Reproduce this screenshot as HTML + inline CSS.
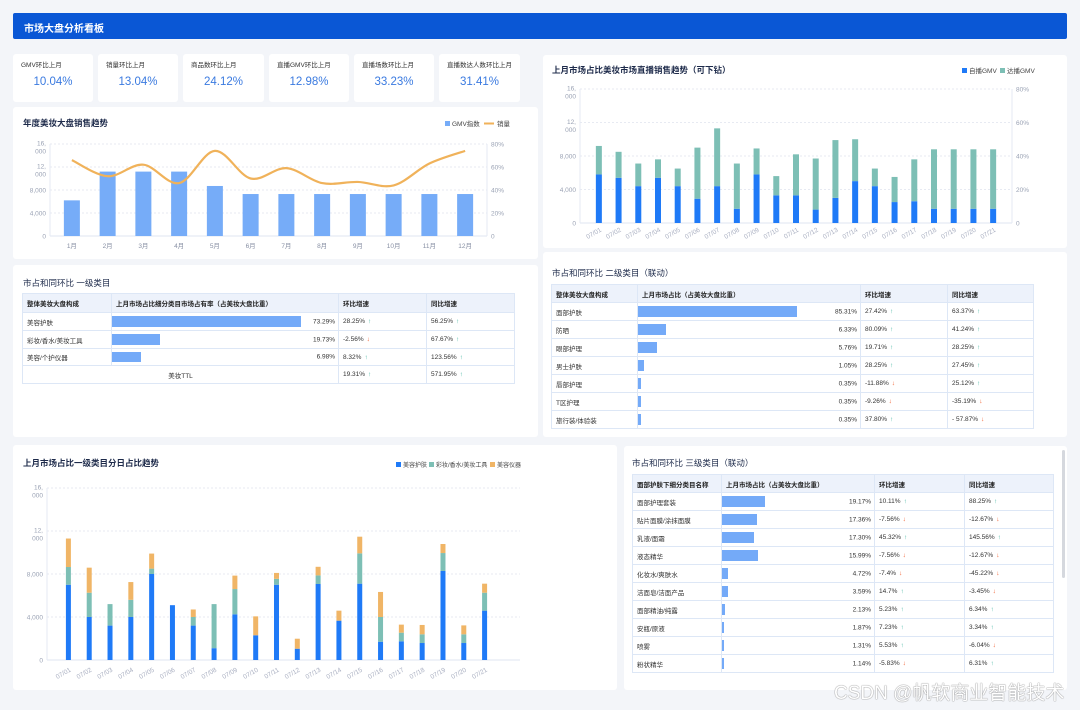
<!DOCTYPE html>
<html><head><meta charset="utf-8">
<style>
*{box-sizing:border-box;margin:0;padding:0}
body{width:1080px;height:710px;background:#f3f5f9;font-family:"Liberation Sans","Noto Sans CJK SC",sans-serif;position:relative;overflow:hidden;color:#333}
.abs{position:absolute}
.panel{position:absolute;background:#fff;border-radius:3px}
.ttl{position:absolute;font-size:8.5px;font-weight:bold;color:#1d2a4a}
.kpi .lb{position:absolute;left:8px;top:5px;font-size:6.5px;color:#333}
.kpi .vl{position:absolute;left:0;right:0;top:22px;text-align:center;font-size:11.5px;color:#3a7ae0}
table{position:absolute;border-collapse:collapse;table-layout:fixed;font-size:6.5px;color:#333}
td,th{border:1px solid #dde7f6;padding:0 4px;white-space:nowrap;overflow:hidden}
th{background:#edf2fb;text-align:left;font-weight:bold;color:#222}
.bc{position:relative;padding:0}
.bar{position:absolute;left:0;top:3px;bottom:3px;background:#74aaf8}
.pv{position:absolute;right:3px;top:50%;transform:translateY(-50%)}
.up{color:#3fb29e;margin-left:3px;font-weight:bold}
.dn{color:#f05a28;margin-left:3px;font-weight:bold}
svg{position:absolute;left:0;top:0}
svg text{font-family:"Liberation Sans","Noto Sans CJK SC",sans-serif}
</style></head><body>
<div class="abs" style="left:13px;top:13px;width:1054px;height:26px;background:#0a57d5;border-radius:2px">
<div style="position:absolute;left:11px;top:7px;color:#fff;font-size:10px;font-weight:bold">市场大盘分析看板</div></div>

<div class="panel kpi" style="left:13px;top:54px;width:80px;height:48px"><div class="lb">GMV环比上月</div><div class="vl">10.04%</div></div>
<div class="panel kpi" style="left:98px;top:54px;width:80px;height:48px"><div class="lb">销量环比上月</div><div class="vl">13.04%</div></div>
<div class="panel kpi" style="left:183px;top:54px;width:81px;height:48px"><div class="lb">商品数环比上月</div><div class="vl">24.12%</div></div>
<div class="panel kpi" style="left:269px;top:54px;width:80px;height:48px"><div class="lb">直播GMV环比上月</div><div class="vl">12.98%</div></div>
<div class="panel kpi" style="left:354px;top:54px;width:80px;height:48px"><div class="lb">直播场数环比上月</div><div class="vl">33.23%</div></div>
<div class="panel kpi" style="left:439px;top:54px;width:81px;height:48px"><div class="lb">直播数达人数环比上月</div><div class="vl">31.41%</div></div>

<div class="panel" style="left:13px;top:107px;width:525px;height:152px"></div>
<div class="ttl" style="left:23px;top:117px">年度美妆大盘销售趋势</div>

<div class="panel" style="left:543px;top:55px;width:524px;height:193px"></div>
<div class="ttl" style="left:552px;top:64px">上月市场占比美妆市场直播销售趋势（可下钻）</div>

<div class="panel" style="left:13px;top:265px;width:525px;height:172px"></div>
<div class="ttl" style="left:23px;top:277px;font-weight:normal">市占和同环比  一级类目</div>
<table style="left:22px;top:293px;width:492px">
<colgroup><col style="width:89px"><col style="width:227px"><col style="width:88px"><col style="width:88px"></colgroup>
<tr style="height:19px"><th>整体美妆大盘构成</th><th>上月市场占比细分类目市场占有率（占美妆大盘比重）</th><th>环比增速</th><th>同比增速</th></tr>
<tr style="height:18px"><td>美容护肤</td><td class="bc"><div class="bar" style="width:189px"></div><span class="pv">73.29%</span></td><td>28.25%<span class="up">↑</span></td><td>56.25%<span class="up">↑</span></td></tr>
<tr style="height:18px"><td>彩妆/香水/美妆工具</td><td class="bc"><div class="bar" style="width:48px"></div><span class="pv">19.73%</span></td><td>-2.56%<span class="dn">↓</span></td><td>67.67%<span class="up">↑</span></td></tr>
<tr style="height:17px"><td>美容/个护仪器</td><td class="bc"><div class="bar" style="width:29px"></div><span class="pv">6.98%</span></td><td>8.32%<span class="up">↑</span></td><td>123.56%<span class="up">↑</span></td></tr>
<tr style="height:18px"><td colspan="2" style="text-align:center">美妆TTL</td><td>19.31%<span class="up">↑</span></td><td>571.95%<span class="up">↑</span></td></tr>
</table>

<div class="panel" style="left:543px;top:252px;width:524px;height:185px"></div>
<div class="ttl" style="left:552px;top:267px;font-weight:normal">市占和同环比  二级类目（联动）</div>
<table style="left:551px;top:284px;width:482px">
<colgroup><col style="width:86px"><col style="width:223px"><col style="width:87px"><col style="width:86px"></colgroup>
<tr style="height:18px"><th>整体美妆大盘构成</th><th>上月市场占比（占美妆大盘比重）</th><th>环比增速</th><th>同比增速</th></tr>
<tr style="height:18px"><td>面部护肤</td><td class="bc"><div class="bar" style="width:159px"></div><span class="pv">85.31%</span></td><td>27.42%<span class="up">↑</span></td><td>63.37%<span class="up">↑</span></td></tr>
<tr style="height:18px"><td>防晒</td><td class="bc"><div class="bar" style="width:28px"></div><span class="pv">6.33%</span></td><td>80.09%<span class="up">↑</span></td><td>41.24%<span class="up">↑</span></td></tr>
<tr style="height:18px"><td>眼部护理</td><td class="bc"><div class="bar" style="width:19px"></div><span class="pv">5.76%</span></td><td>19.71%<span class="up">↑</span></td><td>28.25%<span class="up">↑</span></td></tr>
<tr style="height:18px"><td>男士护肤</td><td class="bc"><div class="bar" style="width:6px"></div><span class="pv">1.05%</span></td><td>28.25%<span class="up">↑</span></td><td>27.45%<span class="up">↑</span></td></tr>
<tr style="height:18px"><td>唇部护理</td><td class="bc"><div class="bar" style="width:3px"></div><span class="pv">0.35%</span></td><td>-11.88%<span class="dn">↓</span></td><td>25.12%<span class="up">↑</span></td></tr>
<tr style="height:18px"><td>T区护理</td><td class="bc"><div class="bar" style="width:3px"></div><span class="pv">0.35%</span></td><td>-9.26%<span class="dn">↓</span></td><td>-35.19%<span class="dn">↓</span></td></tr>
<tr style="height:18px"><td>旅行装/体验装</td><td class="bc"><div class="bar" style="width:3px"></div><span class="pv">0.35%</span></td><td>37.80%<span class="up">↑</span></td><td>- 57.87%<span class="dn">↓</span></td></tr>
</table>

<div class="panel" style="left:13px;top:445px;width:604px;height:245px"></div>
<div class="ttl" style="left:23px;top:457px">上月市场占比一级类目分日占比趋势</div>

<div class="panel" style="left:624px;top:446px;width:443px;height:244px"></div>
<div class="ttl" style="left:632px;top:457px;font-weight:normal">市占和同环比  三级类目（联动）</div>
<div class="abs" style="left:1062px;top:450px;width:3px;height:128px;background:#d5d8de;border-radius:2px"></div>
<table style="left:632px;top:474px;width:421px">
<colgroup><col style="width:89px"><col style="width:153px"><col style="width:90px"><col style="width:89px"></colgroup>
<tr style="height:18px"><th>面部护肤下细分类目名称</th><th>上月市场占比（占美妆大盘比重）</th><th>环比增速</th><th>同比增速</th></tr>
<tr style="height:18px"><td>面部护理套装</td><td class="bc"><div class="bar" style="width:43px"></div><span class="pv">19.17%</span></td><td>10.11%<span class="up">↑</span></td><td>88.25%<span class="up">↑</span></td></tr>
<tr style="height:18px"><td>贴片面膜/涂抹面膜</td><td class="bc"><div class="bar" style="width:35px"></div><span class="pv">17.36%</span></td><td>-7.56%<span class="dn">↓</span></td><td>-12.67%<span class="dn">↓</span></td></tr>
<tr style="height:18px"><td>乳液/面霜</td><td class="bc"><div class="bar" style="width:32px"></div><span class="pv">17.30%</span></td><td>45.32%<span class="up">↑</span></td><td>145.56%<span class="up">↑</span></td></tr>
<tr style="height:18px"><td>液态精华</td><td class="bc"><div class="bar" style="width:36px"></div><span class="pv">15.99%</span></td><td>-7.56%<span class="dn">↓</span></td><td>-12.67%<span class="dn">↓</span></td></tr>
<tr style="height:18px"><td>化妆水/爽肤水</td><td class="bc"><div class="bar" style="width:6px"></div><span class="pv">4.72%</span></td><td>-7.4%<span class="dn">↓</span></td><td>-45.22%<span class="dn">↓</span></td></tr>
<tr style="height:18px"><td>洁面皂/洁面产品</td><td class="bc"><div class="bar" style="width:6px"></div><span class="pv">3.59%</span></td><td>14.7%<span class="up">↑</span></td><td>-3.45%<span class="dn">↓</span></td></tr>
<tr style="height:18px"><td>面部精油/纯露</td><td class="bc"><div class="bar" style="width:3px"></div><span class="pv">2.13%</span></td><td>5.23%<span class="up">↑</span></td><td>6.34%<span class="up">↑</span></td></tr>
<tr style="height:18px"><td>安瓶/原液</td><td class="bc"><div class="bar" style="width:2px"></div><span class="pv">1.87%</span></td><td>7.23%<span class="up">↑</span></td><td>3.34%<span class="up">↑</span></td></tr>
<tr style="height:18px"><td>喷雾</td><td class="bc"><div class="bar" style="width:2px"></div><span class="pv">1.31%</span></td><td>5.53%<span class="up">↑</span></td><td>-6.04%<span class="dn">↓</span></td></tr>
<tr style="height:18px"><td>粉状精华</td><td class="bc"><div class="bar" style="width:2px"></div><span class="pv">1.14%</span></td><td>-5.83%<span class="dn">↓</span></td><td>6.31%<span class="up">↑</span></td></tr>
</table>

<svg id="c1" width="1080" height="710"></svg>
<svg id="c2" width="1080" height="710"></svg>
<svg id="c3" width="1080" height="710"></svg>

<div class="abs" style="left:834px;top:678px;font-size:19px;color:#fff;text-shadow:0 0 1px #888,0 0 1px #888">CSDN @帆软商业智能技术</div>

<script>
const months=["1月","2月","3月","4月","5月","6月","7月","8月","9月","10月","11月","12月"];
const gmvIndex=[6200,11200,11200,11200,8700,7300,7300,7300,7300,7300,7300,7300];
const salesPct=[66,52,62,46,74,50,59,46,47,44,63,74];
const leftTicks=[0,4000,8000,12000,16000];
const leftTickLabels=["0","4,000","8,000","12,|000","16,|000"];
const rightTickLabels=["0","20%","40%","60%","80%"];
const days=["07/01","07/02","07/03","07/04","07/05","07/06","07/07","07/08","07/09","07/10","07/11","07/12","07/13","07/14","07/15","07/16","07/17","07/18","07/19","07/20","07/21"];
const selfGmv=[5800,5400,4400,5400,4400,2900,4400,1700,5800,3300,3300,1600,3000,5000,4400,2500,2600,1700,1700,1700,1700];
const totalGmv=[9200,8500,7100,7600,6500,9000,11300,7100,8900,5600,8200,7700,9900,10000,6500,5500,7600,8800,8800,8800,8800];
const skincare=[7000,4000,3200,4000,8000,5100,3200,1100,4250,2300,7000,1050,7070,3660,7100,1700,1740,1580,8280,1580,4590];
const makeup=[1650,2260,2000,1600,500,0,800,4100,2350,0,550,0,800,0,2820,2300,800,810,1670,810,1670];
const devices=[2650,2330,0,1650,1400,0,700,0,1250,1760,550,930,800,930,1550,2330,750,870,840,830,840];

const NS="http://www.w3.org/2000/svg";
function mk(svg,tag,attrs){const e=document.createElementNS(NS,tag);for(const k in attrs)e.setAttribute(k,attrs[k]);svg.appendChild(e);return e;}
function lin(d0,d1,r0,r1){return v=>r0+(v-d0)/(d1-d0)*(r1-r0);}
function band(n,r0,r1){const s=(r1-r0)/n;return i=>r0+s*(i+0.5);}

function axes(svg,x0,x1,y,leftLabels,rightLabels,rx){
  leftTicks.forEach((t,i)=>{
    const yy=y(t);
    if(i>0){const g=mk(svg,'line',{x1:x0,x2:x1,y1:yy,y2:yy,stroke:'#dfe4ee','stroke-dasharray':'2,2','stroke-width':0.8});
    }
    const parts=leftLabels[i].split('|');
    parts.forEach((p,j)=>{const tx=mk(svg,'text',{x:x0-4,y:yy+2.5+j*8-(parts.length>1?1:0),'text-anchor':'end','font-size':6.5,fill:'#9aa2b4'});tx.textContent=p;
    });
    if(rightLabels){const tr=mk(svg,'text',{x:rx,y:yy+2.5,'font-size':6.5,fill:'#9aa2b4'});tr.textContent=rightLabels[i];
    }
  });
  const a=mk(svg,'line',{x1:x0,x2:x1,y1:y(0),y2:y(0),stroke:'#dfe4f2','stroke-width':1});
  
  const l=mk(svg,'line',{x1:x0,x2:x0,y1:y(0),y2:y(16000),stroke:'#e6eaf3','stroke-width':1});
  
  if(rightLabels){const r=mk(svg,'line',{x1:x1,x2:x1,y1:y(0),y2:y(16000),stroke:'#e6eaf3','stroke-width':1});
  }
}
function legendRect(svg,x,y,c,t,fs){const r=mk(svg,'rect',{x:x,y:y-5,width:5,height:5,fill:c});

const tx=mk(svg,'text',{x:x+7,y:y,'font-size':fs||6.5,fill:'#444'});tx.textContent=t;
}

// Chart 1
(function(){
  const svg=document.getElementById('c1');
  const y=lin(0,16000,236,144), yp=lin(0,80,236,144), x=band(months.length,54,483);
  axes(svg,50,487,y,leftTickLabels,rightTickLabels,491);
  gmvIndex.forEach((v,i)=>{const r=mk(svg,'rect',{x:x(i)-8,y:y(v),width:16,height:y(0)-y(v),fill:'#76acf8'});
    
    const t=mk(svg,'text',{x:x(i),y:248,'text-anchor':'middle','font-size':6.5,fill:'#8890a4'});t.textContent=months[i];
    });
  const pts=salesPct.map((v,i)=>[x(i),yp(v)]);
  let d='M'+pts[0][0]+','+pts[0][1];
  for(let i=0;i<pts.length-1;i++){const p0=pts[Math.max(0,i-1)],p1=pts[i],p2=pts[i+1],p3=pts[Math.min(pts.length-1,i+2)];
    d+=' C'+(p1[0]+(p2[0]-p0[0])/6)+','+(p1[1]+(p2[1]-p0[1])/6)+' '+(p2[0]-(p3[0]-p1[0])/6)+','+(p2[1]-(p3[1]-p1[1])/6)+' '+p2[0]+','+p2[1];}
  const ln=mk(svg,'path',{d:d,fill:'none',stroke:'#f0b25a','stroke-width':2.2});
  
  legendRect(svg,445,126,'#76acf8','GMV指数');
  const ll=mk(svg,'line',{x1:484,x2:494,y1:123.5,y2:123.5,stroke:'#f0b25a','stroke-width':2});
  
  const lt=mk(svg,'text',{x:497,y:126,'font-size':6.5,fill:'#444'});lt.textContent='销量';
  
})();

// Chart 2
(function(){
  const svg=document.getElementById('c2');
  const y=lin(0,16000,223,89), x=band(days.length,589,1003);
  axes(svg,580,1012,y,leftTickLabels,rightTickLabels,1016);
  days.forEach((dname,i)=>{
    const b=mk(svg,'rect',{x:x(i)-3,y:y(selfGmv[i]),width:6,height:y(0)-y(selfGmv[i]),fill:'#1f7af7'});
    
    const t=mk(svg,'rect',{x:x(i)-3,y:y(totalGmv[i]),width:6,height:y(selfGmv[i])-y(totalGmv[i]),fill:'#7dbfb5'});
    
    const tx=mk(svg,'text',{x:x(i)+3,y:231,'text-anchor':'end','font-size':6.5,fill:'#a8aec0',transform:'rotate(-30 '+(x(i)+3)+' 231)'});tx.textContent=dname;
    
  });
  legendRect(svg,962,73,'#1f7af7','自播GMV');
  legendRect(svg,1000,73,'#7dbfb5','达播GMV');
})();

// Chart 3
(function(){
  const svg=document.getElementById('c3');
  const y=lin(0,16000,660,488), x=band(days.length,58,495);
  axes(svg,47,520,y,leftTickLabels,null,0);
  days.forEach((dname,i)=>{
    const a=skincare[i],b=a+makeup[i],c=b+devices[i];
    const r1=mk(svg,'rect',{x:x(i)-2.5,y:y(a),width:5,height:y(0)-y(a),fill:'#1f7af7'});
    
    const r2=mk(svg,'rect',{x:x(i)-2.5,y:y(b),width:5,height:y(a)-y(b),fill:'#7dbfb5'});
    
    const r3=mk(svg,'rect',{x:x(i)-2.5,y:y(c),width:5,height:y(b)-y(c),fill:'#f0b566'});
    
    const tx=mk(svg,'text',{x:x(i)+3,y:671,'text-anchor':'end','font-size':6.5,fill:'#a8aec0',transform:'rotate(-30 '+(x(i)+3)+' 671)'});tx.textContent=dname;
    
  });
  legendRect(svg,396,467,'#1f7af7','美容护肤',6);
  legendRect(svg,429,467,'#7dbfb5','彩妆/香水/美妆工具',6);
  legendRect(svg,490,467,'#f0b566','美容仪器',6);
})();
</script>
</body></html>
